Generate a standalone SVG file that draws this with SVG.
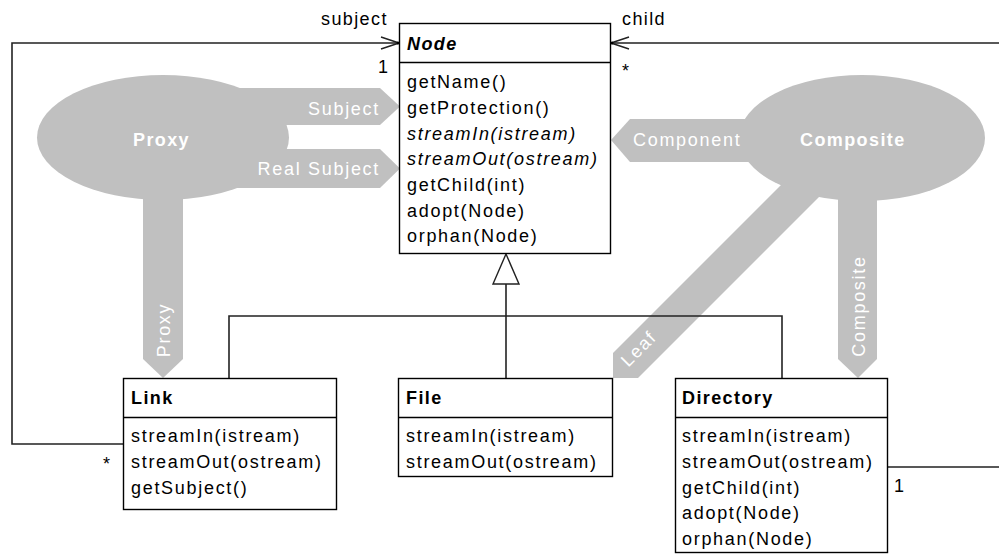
<svg xmlns="http://www.w3.org/2000/svg" width="999" height="554" viewBox="0 0 999 554">
<style>
text{font-family:"Liberation Sans",Arial,sans-serif;font-size:18px;fill:#000;letter-spacing:1.7px}
.b{font-weight:bold;letter-spacing:1.4px}
.i{font-style:italic}
.w{fill:#ffffff}
.box{fill:#fff;stroke:#000;stroke-width:1.4}
.pat{fill:#c0c0c0;stroke:none}
.con{fill:none;stroke:#222;stroke-width:1.6}
</style>
<defs>
<marker id="open" viewBox="0 0 20 14" refX="19" refY="7" markerWidth="20" markerHeight="14" markerUnits="userSpaceOnUse" orient="auto">
<path d="M1,1 L19,7 L1,13" fill="none" stroke="#222" stroke-width="1.4"/>
</marker>
</defs>

<g id="pattern-proxy">
<ellipse class="pat" cx="163" cy="137.5" rx="126" ry="62.5"/>
<polygon class="pat" points="230,88 380,88 400,106.5 380,125 230,125"/>
<polygon class="pat" points="230,149 380,149 400,168.5 380,188 230,188"/>
<polygon class="pat" points="143,180 183,180 183,359 163,378 143,359"/>
<text class="b w" x="133" y="146">Proxy</text>
<text class="w" x="380" y="115" text-anchor="end">Subject</text>
<text class="w" x="380" y="175" text-anchor="end">Real Subject</text>
<text class="w" transform="translate(169.5,330) rotate(-90)" text-anchor="middle">Proxy</text>
</g>

<g id="pattern-composite">
<ellipse class="pat" cx="862" cy="138" rx="123" ry="63"/>
<polygon class="pat" points="760,119 630,119 611,140 630,162 760,162"/>
<polygon class="pat" points="838,180 877,180 877,359 858,378 838,359"/>
<polygon class="pat" points="786,180 613,353 613,378 638,378 836,180"/>
<text class="b w" x="800" y="146">Composite</text>
<text class="w" x="633" y="146">Component</text>
<text class="w" transform="translate(864.5,306) rotate(-90)" text-anchor="middle">Composite</text>
<text class="w" transform="translate(643,353) rotate(-45)" text-anchor="middle">Leaf</text>
</g>

<g id="connectors">
<polyline class="con" points="123,444 12,444 12,43 399,43" marker-end="url(#open)"/>
<polyline class="con" points="888,467 1003,467 1003,43 611,43" marker-end="url(#open)"/>
<circle cx="398" cy="43" r="1.5" fill="#000"/>
<circle cx="612" cy="43" r="1.5" fill="#000"/>
<polyline class="con" points="229,378 229,316 782,316 782,378"/>
<line class="con" x1="506" y1="284" x2="506" y2="378"/>
<polygon points="506,254 519,284 493,284" fill="#fff" stroke="#222" stroke-width="1.4"/>
<text x="321" y="25" style="letter-spacing:1.4px">subject</text>
<text x="378" y="73">1</text>
<text x="622" y="25" style="letter-spacing:1.4px">child</text>
<text x="622" y="77">*</text>
<text x="103" y="470">*</text>
<text x="894" y="492">1</text>
</g>

<g id="node-Node">
<rect class="box" x="399.5" y="23.5" width="211" height="230"/>
<line class="box" x1="399.5" y1="62.5" x2="610.5" y2="62.5"/>
<text class="b i" x="407" y="50">Node</text>
<text x="407" y="88">getName()</text>
<text x="407" y="114">getProtection()</text>
<text class="i" x="407" y="139.5">streamIn(istream)</text>
<text class="i" x="407" y="165">streamOut(ostream)</text>
<text x="407" y="191">getChild(int)</text>
<text x="407" y="216.5">adopt(Node)</text>
<text x="407" y="242">orphan(Node)</text>
</g>

<g id="node-Link">
<rect class="box" x="123.5" y="378.5" width="213" height="131"/>
<line class="box" x1="123.5" y1="417.5" x2="336.5" y2="417.5"/>
<text class="b" x="131" y="404">Link</text>
<text x="131" y="442">streamIn(istream)</text>
<text x="131" y="468">streamOut(ostream)</text>
<text x="131" y="494">getSubject()</text>
</g>

<g id="node-File">
<rect class="box" x="398.5" y="378.5" width="214" height="98"/>
<line class="box" x1="398.5" y1="417.5" x2="612.5" y2="417.5"/>
<text class="b" x="406" y="404">File</text>
<text x="406" y="442">streamIn(istream)</text>
<text x="406" y="468">streamOut(ostream)</text>
</g>

<g id="node-Directory">
<rect class="box" x="675.5" y="378.5" width="212" height="174"/>
<line class="box" x1="675.5" y1="417.5" x2="887.5" y2="417.5"/>
<text class="b" x="682" y="404">Directory</text>
<text x="682" y="442">streamIn(istream)</text>
<text x="682" y="468">streamOut(ostream)</text>
<text x="682" y="494">getChild(int)</text>
<text x="682" y="519">adopt(Node)</text>
<text x="682" y="545">orphan(Node)</text>
</g>
</svg>
